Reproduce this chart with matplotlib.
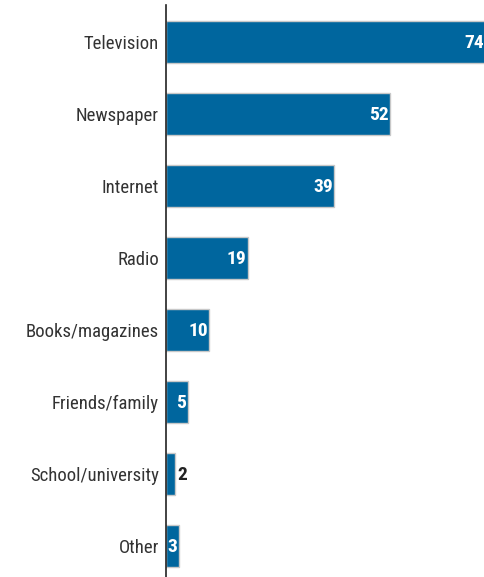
import matplotlib
matplotlib.use("Agg")
import matplotlib.pyplot as plt
from matplotlib import font_manager

categories = ["Television", "Newspaper", "Internet", "Radio", "Books/magazines",
              "Friends/family", "School/university", "Other"]
values = [74, 52, 39, 19, 10, 5, 2, 3]

names = {f.name for f in font_manager.fontManager.ttflist}
fam = "Roboto Condensed" if "Roboto Condensed" in names else "DejaVu Sans"
plt.rcParams["font.family"] = [fam, "DejaVu Sans"]

fig = plt.figure(figsize=(4.85, 5.77), dpi=100)
ax = fig.add_axes([166/485, 0, 1 - 166/485, 1 - 5/577])
color = "#00669e"
ys = list(range(len(categories)))
ax.barh(ys, values, height=0.58, color=color, edgecolor="#c8c8c8", linewidth=1.0, zorder=2)
ax.set_xlim(0, 74)
ax.set_ylim(7.43, -0.514)
ax.set_yticks(ys)
ax.set_yticklabels(categories, fontsize=13.5, color="#333333")
for lab in ax.get_yticklabels():
    lab.set_y(lab.get_position()[1])
ax.tick_params(axis="y", length=0, pad=5)
ax.set_xticks([])
for s in ["top", "right", "bottom"]:
    ax.spines[s].set_visible(False)
ax.spines["left"].set_color("#222222")
ax.spines["left"].set_linewidth(1.2)
ax.spines["left"].set_zorder(3)

for y, v in zip(ys, values):
    if v >= 3:
        ax.text(v - 0.3, y + 0.02, str(v), ha="right", va="center", color="white",
                fontsize=14, fontweight="bold", zorder=4)
    else:
        ax.text(v + 0.6, y + 0.02, str(v), ha="left", va="center", color="#222222",
                fontsize=14, fontweight="bold", zorder=4)

fig.savefig("out.png", dpi=100)
